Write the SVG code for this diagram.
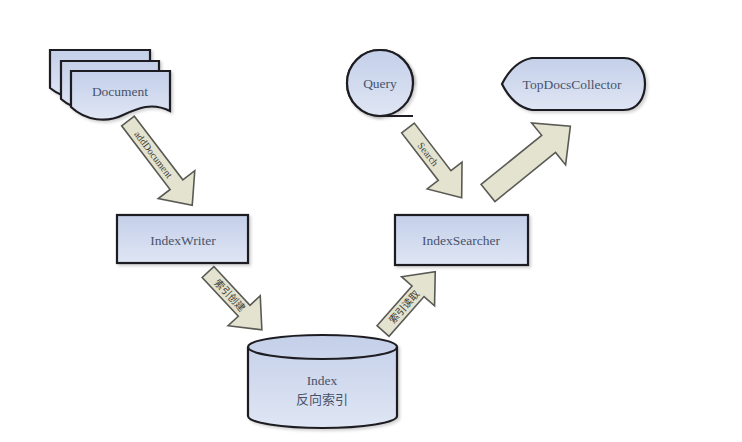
<svg xmlns="http://www.w3.org/2000/svg" width="742" height="442" viewBox="0 0 742 442">
<defs>
<linearGradient id="blue" x1="0" y1="0" x2="0" y2="1">
<stop offset="0" stop-color="#c4cfe9"/>
<stop offset="1" stop-color="#dfe6f4"/>
</linearGradient>
<filter id="sh" x="-20%" y="-20%" width="140%" height="140%">
<feDropShadow dx="2" dy="2" stdDeviation="1.5" flood-color="#000" flood-opacity="0.18"/>
</filter>
</defs>
<style>
.node{fill:url(#blue);stroke:#1e1e22;stroke-width:2.2;filter:url(#sh)}
.lbl{font-family:"Liberation Serif","Noto Sans CJK SC",serif;font-size:13.5px;fill:#48536b;text-anchor:middle;dominant-baseline:central}
.arr{fill:#e3e3cf;stroke:#5a5a55;stroke-width:1.6;stroke-linejoin:miter}
.alb{font-family:"Liberation Serif","Noto Sans CJK SC",serif;font-size:10px;fill:#3a3a35;text-anchor:middle;dominant-baseline:central}
</style>
<rect width="742" height="442" fill="#ffffff"/>

<g id="connectors">
<g transform="translate(128,121) rotate(52.7)">
<polygon class="arr" points="0,-8 80,-8 80,-23 106,0 80,23 80,8 0,8"/>
<text class="alb" x="42" y="0">addDocument</text>
</g>
<g transform="translate(208,272) rotate(47)">
<polygon class="arr" points="0,-8 53,-8 53,-22 79,0 53,22 53,8 0,8"/>
<text class="alb" x="32" y="0">索引创建</text>
</g>
<g transform="translate(383,331) rotate(-48.6)">
<polygon class="arr" points="0,-8 53,-8 53,-22 79,0 53,22 53,8 0,8"/>
<text class="alb" x="32" y="0">索引读取</text>
</g>
<g transform="translate(408,128) rotate(52.4)">
<polygon class="arr" points="0,-8 60,-8 60,-22 88,0 60,22 60,8 0,8"/>
<text class="alb" x="33" y="0">Search</text>
</g>
<g transform="translate(488,193) rotate(-39)">
<polygon class="arr" points="0,-11 78,-11 78,-27 106,0 78,27 78,11 0,11"/>
</g>
</g>

<g id="document">
<path class="node" d="M50,50 H150 V89 C132,80 118,86 104,94 C88,102 66,101 50,88 Z"/>
<path class="node" d="M61,61 H159 V100 C141,91 127,97 113,105 C97,113 76,112 61,99 Z"/>
<path class="node" d="M71,71 H170 V111 C152,102 138,108 123,115 C107,123 86,121 71,107 Z"/>
<text class="lbl" x="120" y="91">Document</text>
</g>

<g id="indexwriter">
<rect class="node" x="117" y="215" width="131" height="48"/>
<text class="lbl" x="183" y="240">IndexWriter</text>
</g>

<g id="index">
<path class="node" d="M248,347 A74.5,12 0 0 1 397,347 V416 A74.5,12 0 0 1 248,416 Z"/>
<path d="M248,347 A74.5,12 0 0 0 397,347" fill="none" stroke="#1e1e22" stroke-width="2.2"/>
<text class="lbl" x="322" y="380">Index</text>
<text class="lbl" x="322" y="399" style="font-size:13px">反向索引</text>
</g>

<g id="indexsearcher">
<rect class="node" x="395" y="215" width="133" height="50"/>
<text class="lbl" x="461" y="240">IndexSearcher</text>
</g>

<g id="query">
<path class="node" d="M380,116 A33,33 0 1 1 413,83"/>
<circle class="node" cx="380" cy="83" r="33"/>
<line x1="380" y1="116" x2="413" y2="116" stroke="#1e1e22" stroke-width="2.2"/>
<text class="lbl" x="380" y="83">Query</text>
</g>

<g id="topdocscollector">
<path class="node" d="M502,84 C510,68 521,60 532,58 L624,58 C638,58 645,71 645,84 C645,97 638,110 624,110 L532,110 C521,108 510,100 502,84 Z"/>
<text class="lbl" x="572" y="84">TopDocsCollector</text>
</g>
</svg>
